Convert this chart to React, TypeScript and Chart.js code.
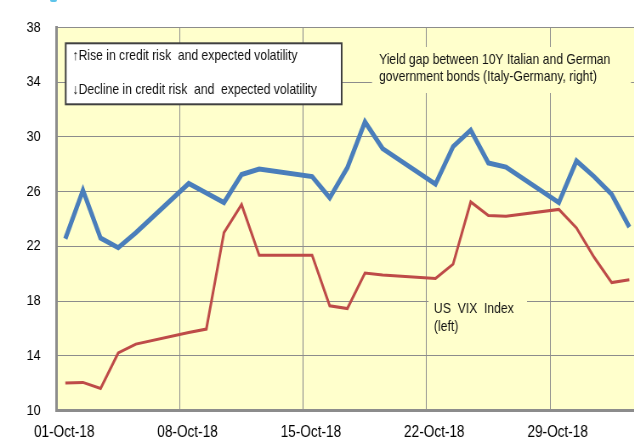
import { useEffect, useRef } from "react";
import { Chart, registerables } from "chart.js";

Chart.register(...registerables);

// ---------- data ----------
const START_DATE = "2018-10-01";
const xTickDays = [0, 7, 14, 21, 28];
const xTickLabels = ["01-Oct-18", "08-Oct-18", "15-Oct-18", "22-Oct-18", "29-Oct-18"];
const yTicks = [10, 14, 18, 22, 26, 30, 34, 38];

const vixDates = [
  "2018-10-01", "2018-10-02", "2018-10-03", "2018-10-04", "2018-10-05",
  "2018-10-08", "2018-10-09", "2018-10-10", "2018-10-11", "2018-10-12",
  "2018-10-15", "2018-10-16", "2018-10-17", "2018-10-18", "2018-10-19",
  "2018-10-22", "2018-10-23", "2018-10-24", "2018-10-25", "2018-10-26",
  "2018-10-29", "2018-10-30", "2018-10-31", "2018-11-01", "2018-11-02",
];
const vixValues = [
  12.0, 12.05, 11.6, 14.2, 14.85,
  15.7, 15.95, 23.0, 25.05, 21.35,
  21.35, 17.65, 17.45, 20.05, 19.9,
  19.65, 20.7, 25.25, 24.25, 24.2,
  24.7, 23.35, 21.2, 19.35, 19.55,
];

const gapDates = [
  "2018-10-01", "2018-10-02", "2018-10-03", "2018-10-04", "2018-10-05",
  "2018-10-08", "2018-10-09", "2018-10-10", "2018-10-11", "2018-10-12",
  "2018-10-15", "2018-10-16", "2018-10-17", "2018-10-18", "2018-10-19",
  "2018-10-22", "2018-10-23", "2018-10-24", "2018-10-25", "2018-10-26",
  "2018-10-29", "2018-10-30", "2018-10-31", "2018-11-01", "2018-11-02",
];
const gapValues = [
  22.55, 26.1, 22.6, 21.9, 23.0,
  26.6, 25.9, 25.2, 27.25, 27.65,
  27.1, 25.55, 27.75, 31.1, 29.15,
  26.55, 29.3, 30.5, 28.1, 27.8,
  25.2, 28.25, 27.1, 25.8, 23.4,
];

const boxLine1 = "\u2191Rise in credit risk  and expected volatility";
const boxLine2 = "\u2193Decline in credit risk  and  expected volatility";
const gapLabel1 = "Yield gap between 10Y Italian and German";
const gapLabel2 = "government bonds (Italy-Germany, right)";
const vixLabel1 = "US  VIX  Index";
const vixLabel2 = "(left)";

// ---------- layout ----------
const S = 0.85; // horizontal condensation of the whole picture
const W = Math.round(634 / S);
const H = 438;
const X_MAX = 32.77;
const sx = (x: number) => x / S;
const FONT_FAMILY = '"Liberation Sans", Arial, sans-serif';
const ANN_FONT = `14.3px ${FONT_FAMILY}`;
const PLOT_BG = "#FFFFCC";
const GRID = "#8c8c8c";

const dayIndex = (d: string) =>
  (Date.parse(d + "T00:00:00Z") - Date.parse(START_DATE + "T00:00:00Z")) / 86400000;

const toPoints = (dates: string[], values: number[]) =>
  dates.map((d, i) => ({ x: dayIndex(d) + 0.5, y: values[i] }));

const bgPlugin = {
  id: "plotBg",
  beforeDraw(chart: any) {
    const { ctx, chartArea: a } = chart;
    ctx.save();
    ctx.fillStyle = "#ffffff";
    ctx.fillRect(0, 0, chart.width, chart.height);
    ctx.fillStyle = PLOT_BG;
    ctx.fillRect(a.left, a.top, a.right - a.left, a.bottom - a.top);
    ctx.restore();
  },
};

const annotationPlugin = {
  id: "annotations",
  beforeDatasetsDraw(chart: any) {
    const { ctx } = chart;
    ctx.save();
    // explanatory box
    const bx = sx(65.7), by = 43.3, bw = sx(341.7) - sx(65.7), bh = 104.3 - 43.3;
    ctx.fillStyle = "#ffffff";
    ctx.fillRect(bx, by, bw, bh);
    ctx.strokeStyle = "#404040";
    ctx.lineWidth = 2;
    ctx.strokeRect(bx, by, bw, bh);
    ctx.fillStyle = "#111111";
    ctx.font = ANN_FONT;
    ctx.textBaseline = "alphabetic";
    ctx.textAlign = "left";
    ctx.fillText(boxLine1, sx(72.5), 60);
    ctx.fillText(boxLine2, sx(72.5), 94.3);

    // yield gap label
    ctx.fillStyle = PLOT_BG;
    ctx.fillRect(sx(372), 47, sx(631) - sx(372), 46);
    ctx.fillStyle = "#111111";
    ctx.fillText(gapLabel1, sx(379), 64.3);
    ctx.fillText(gapLabel2, sx(379), 81);

    // VIX label
    ctx.fillStyle = PLOT_BG;
    ctx.fillRect(sx(428.5), 291, sx(527) - sx(428.5), 46);
    ctx.fillStyle = "#111111";
    ctx.fillText(vixLabel1, sx(434), 313.3);
    ctx.fillText(vixLabel2, sx(434), 330.7);
    ctx.restore();
  },
};

export default function App() {
  const ref = useRef<HTMLCanvasElement>(null);

  useEffect(() => {
    if (!ref.current) return;
    const chart = new Chart(ref.current, {
      type: "line",
      data: {
        datasets: [
          {
            label: "US VIX Index (left)",
            data: toPoints(vixDates, vixValues),
            borderColor: "#BE4B48",
            borderWidth: 3,
            pointRadius: 0,
            tension: 0,
            yAxisID: "y",
          },
          {
            label: "Yield gap between 10Y Italian and German government bonds (Italy-Germany, right)",
            data: toPoints(gapDates, gapValues),
            borderColor: "#4A7EBB",
            borderWidth: 5,
            pointRadius: 0,
            tension: 0,
            yAxisID: "y1",
          },
        ],
      },
      options: {
        animation: false,
        responsive: false,
        devicePixelRatio: 1,
        layout: { padding: { top: 19.8, left: 0, right: 0, bottom: 0 } },
        plugins: {
          legend: { display: false },
          tooltip: { enabled: false },
          title: { display: false },
        },
        scales: {
          x: {
            type: "linear",
            min: 0,
            max: X_MAX,
            afterBuildTicks: (s: any) => {
              s.ticks = xTickDays.map((v) => ({ value: v }));
            },
            afterFit: (s: any) => {
              s.height = 26.7;
            },
            grid: { color: GRID, lineWidth: 1, drawTicks: false },
            border: { color: GRID, width: 3 },
            ticks: {
              autoSkip: false,
              maxRotation: 0,
              padding: 13,
              labelOffset: 9,
              color: "#000",
              font: { family: FONT_FAMILY, size: 16 },
              callback: (v: any) => {
                const i = xTickDays.indexOf(Number(v));
                return i >= 0 ? xTickLabels[i] : "";
              },
            },
          },
          y: {
            position: "left",
            min: 10,
            max: 38,
            afterBuildTicks: (s: any) => {
              s.ticks = yTicks.map((v) => ({ value: v }));
            },
            afterFit: (s: any) => {
              s.width = sx(56.5);
            },
            grid: { color: GRID, lineWidth: 1, drawTicks: false },
            border: { color: GRID, width: 3 },
            ticks: {
              padding: sx(56.5) - sx(40.7),
              color: "#000",
              font: { family: FONT_FAMILY, size: 15 },
            },
          },
          y1: {
            display: false,
            position: "right",
            min: 10,
            max: 38,
          },
        },
      },
      plugins: [bgPlugin, annotationPlugin],
    } as any);
    return () => chart.destroy();
  }, []);

  return (
    <div
      style={{
        position: "absolute",
        left: 0,
        top: 0,
        width: 634,
        height: H,
        overflow: "hidden",
        background: "#fff",
      }}
    >
      <div
        style={{
          position: "absolute",
          left: 0,
          top: 0,
          width: W,
          height: H,
          transform: `scaleX(${S})`,
          transformOrigin: "0 0",
        }}
      >
        <canvas ref={ref} width={W} height={H} style={{ display: "block", width: W, height: H }} />
      </div>
      <div
        style={{
          position: "absolute",
          left: 50,
          top: 0,
          width: 7,
          height: 2,
          background: "#5ec4ea",
          borderRadius: "0 0 3px 3px",
        }}
      />
    </div>
  );
}
